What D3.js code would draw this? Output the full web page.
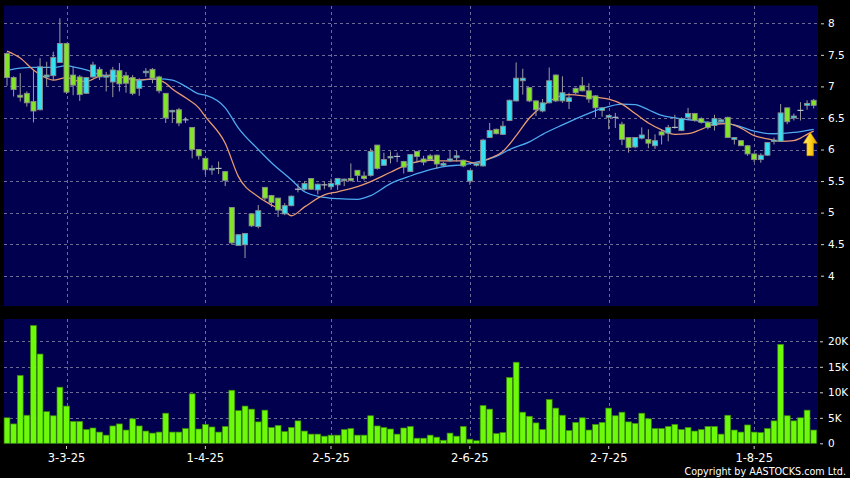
<!DOCTYPE html>
<html><head><meta charset="utf-8">
<script src="https://cdn.jsdelivr.net/npm/d3@7"></script>
<style>html,body{margin:0;padding:0;background:#000;}svg{display:block;}</style>
</head><body>
<svg id="chart" width="850" height="478"></svg>
<script>
// ---------- DATA ----------
const openP  = [7.52,7.14,6.86,6.89,6.76,6.63,7.15,7.17,7.38,7.68,7.18,7.15,6.89,7.15,7.27,7.15,7.07,7.25,7.17,7.14,6.97,7.22,7.27,7.15,6.89,6.60,6.63,6.47,6.35,6.00,5.86,5.68,5.70,5.65,5.08,4.48,4.49,4.98,4.78,5.40,5.27,5.23,4.98,5.11,5.37,5.37,5.54,5.36,5.44,5.41,5.44,5.51,5.54,5.67,5.58,5.59,6.07,5.75,5.87,5.89,5.81,5.65,5.97,5.85,5.90,5.91,5.75,5.82,5.87,5.83,5.50,5.75,5.74,6.19,6.32,6.24,6.46,6.77,7.09,6.98,6.77,6.61,6.74,7.18,6.77,6.76,6.97,7.01,6.93,6.85,6.62,6.51,6.51,6.40,6.19,6.04,6.18,6.16,6.06,6.28,6.26,6.35,6.30,6.51,6.57,6.49,6.43,6.38,6.44,6.51,6.16,6.14,6.06,5.93,5.84,5.91,6.13,6.13,6.66,6.50,6.62,6.70,6.78];
const highP  = [7.54,7.16,7.21,6.92,7.26,7.45,7.39,7.55,8.08,7.69,7.31,7.18,7.15,7.39,7.31,7.23,7.31,7.37,7.23,7.18,7.13,7.29,7.29,7.17,6.89,6.63,6.66,6.51,6.35,6.00,5.86,5.75,5.81,5.66,5.08,4.65,4.67,4.98,5.12,5.40,5.28,5.23,5.15,5.27,5.46,5.49,5.54,5.46,5.49,5.54,5.55,5.54,5.78,5.67,5.65,6.02,6.07,5.95,5.97,5.95,5.82,5.92,5.97,5.90,5.93,5.92,5.80,5.98,5.98,5.84,5.67,5.80,6.17,6.42,6.33,6.45,6.79,7.38,7.28,6.99,6.78,6.80,7.30,7.19,7.16,6.90,6.98,7.15,7.05,6.86,6.67,6.55,6.58,6.44,6.19,6.19,6.35,6.32,6.24,6.31,6.39,6.55,6.51,6.66,6.58,6.51,6.45,6.55,6.49,6.52,6.19,6.15,6.07,5.93,5.94,6.11,6.19,6.72,6.66,6.57,6.75,6.78,6.80];
const lowP   = [7.01,6.84,6.76,6.68,6.43,6.62,7.01,7.10,7.38,6.88,6.86,6.77,6.88,7.14,7.10,6.92,6.83,6.92,6.90,6.86,6.85,7.15,7.05,6.89,6.42,6.42,6.37,6.42,5.86,5.84,5.60,5.60,5.61,5.42,4.49,4.48,4.28,4.77,4.75,5.19,5.09,4.93,4.96,5.10,5.32,5.35,5.36,5.29,5.37,5.36,5.36,5.42,5.49,5.49,5.51,5.57,5.68,5.74,5.78,5.80,5.62,5.65,5.79,5.75,5.82,5.70,5.72,5.80,5.81,5.72,5.44,5.73,5.73,6.18,6.24,6.23,6.45,6.76,6.87,6.75,6.53,6.59,6.73,6.75,6.74,6.64,6.88,6.92,6.74,6.51,6.52,6.32,6.34,6.07,5.95,6.02,6.16,6.02,6.01,6.08,6.13,6.33,6.29,6.47,6.44,6.41,6.32,6.30,6.43,6.19,6.08,6.06,5.90,5.80,5.79,5.90,6.08,6.12,6.40,6.46,6.46,6.63,6.65];
const closeP = [7.14,6.95,6.83,6.74,6.61,7.31,7.18,7.46,7.68,6.91,7.02,6.87,7.14,7.34,7.15,7.17,7.26,7.04,7.05,6.89,7.10,7.24,7.13,6.93,6.50,6.62,6.42,6.47,6.00,5.90,5.68,5.70,5.70,5.51,4.52,4.65,4.67,4.79,5.03,5.23,5.16,5.04,5.11,5.26,5.37,5.46,5.37,5.45,5.44,5.46,5.54,5.53,5.51,5.59,5.54,5.97,5.70,5.84,5.89,5.89,5.72,5.92,5.89,5.80,5.84,5.77,5.78,5.85,5.90,5.74,5.67,5.78,6.15,6.30,6.25,6.37,6.78,7.13,7.13,6.77,6.63,6.74,7.09,6.77,6.90,6.82,6.90,6.93,6.80,6.66,6.66,6.54,6.51,6.16,6.03,6.19,6.23,6.10,6.14,6.23,6.35,6.35,6.49,6.57,6.46,6.43,6.35,6.49,6.47,6.19,6.19,6.06,5.93,5.84,5.91,6.11,6.15,6.58,6.44,6.53,6.62,6.73,6.70];
// volume in thousands of shares
const volumeK = [5.0,3.8,13.3,5.5,23.1,17.5,6.2,5.4,11.0,7.3,4.3,4.3,2.7,3.0,2.2,1.6,3.4,3.8,2.6,4.8,3.4,2.4,2.0,2.2,5.9,2.2,2.2,2.9,9.7,2.8,3.7,3.2,2.2,3.3,10.4,6.4,7.3,6.7,4.2,6.5,3.1,3.5,2.3,3.1,4.4,2.4,1.8,1.8,1.4,1.6,1.6,2.7,2.9,1.6,1.6,5.4,3.4,3.1,2.8,1.8,3.0,3.3,1.0,1.0,1.6,1.2,0.6,2.0,1.4,3.3,0.8,0.5,7.4,6.7,1.9,2.1,12.9,15.9,6.1,5.3,4.0,2.7,8.6,6.9,5.5,2.5,4.1,5.0,2.6,3.7,4.1,6.9,5.4,6.1,4.2,3.9,5.9,4.8,2.9,2.9,3.3,3.7,2.7,3.1,2.4,2.7,3.3,3.3,1.8,5.5,2.6,2.2,3.6,2.2,2.1,2.9,4.4,19.4,5.4,4.4,5.0,6.5,2.6];
// short moving average (orange) read at bar indices
const maShortIdx = [0,2,4,6,7,9,11,12,14,16,18,20,22,24,25,27,29,30,33,35,38,40,42,43,45,48,50,53,55,58,61,64,66,69,71,73,75,77,79,81,83,85,88,91,93,95,97,99,101,103,105,107,109,111,113,115,117,119,120,121,122];
const maShortVal = [7.56,7.45,7.26,7.13,7.10,7.14,7.08,7.08,7.16,7.18,7.13,7.10,7.12,7.05,6.96,6.82,6.66,6.52,6.10,5.57,5.25,5.12,5.02,4.95,5.09,5.28,5.33,5.41,5.49,5.64,5.78,5.83,5.82,5.82,5.78,5.86,5.97,6.22,6.50,6.69,6.82,6.87,6.84,6.80,6.72,6.57,6.42,6.31,6.24,6.25,6.32,6.40,6.41,6.34,6.22,6.17,6.13,6.14,6.18,6.24,6.29];
// long moving average (blue)
const maLongIdx = [0,2,4,7,9,10,12,14,17,20,23,25,27,29,30,33,35,38,40,43,45,48,50,53,55,58,61,64,66,69,71,74,76,79,81,84,87,90,93,95,97,99,101,104,106,109,111,113,116,119,122];
const maLongVal = [7.25,7.29,7.30,7.30,7.33,7.31,7.26,7.19,7.15,7.10,7.12,7.10,7.00,6.88,6.86,6.66,6.34,6.00,5.79,5.52,5.33,5.24,5.22,5.21,5.27,5.46,5.58,5.68,5.73,5.76,5.80,5.89,6.00,6.12,6.24,6.39,6.53,6.65,6.72,6.71,6.63,6.54,6.50,6.46,6.43,6.41,6.36,6.29,6.25,6.27,6.32];
const dateLabels = ["3-3-25","1-4-25","2-5-25","2-6-25","2-7-25","1-8-25"];
const dateIdx = [9,30,49,70,91,113];
const priceTicks = [4,4.5,5,5.5,6,6.5,7,7.5,8];
const volTicks = [0,5,10,15,20];
const volTickLabels = ["0","5K","10K","15K","20K"];

// ---------- CHART ----------
const N = openP.length;
const svg = d3.select("#chart");
const FONT = "'DejaVu Sans', Verdana, sans-serif";
const NAVY = "#00004f";
const GRID = "#6c6c94";

const x = d3.scaleBand().domain(d3.range(N)).range([3.7, 817]);
const cx = i => x(i) + x.bandwidth() / 2;
const y = d3.scaleLinear().domain([4, 8]).range([275.7, 23.3]);
const yv = d3.scaleLinear().domain([0, 20]).range([443.3, 341.3]);

svg.append("rect").attr("width", 850).attr("height", 478).attr("fill", "#000");
// panels
svg.append("rect").attr("x", 4).attr("y", 5.5).attr("width", 814).attr("height", 300.5).attr("fill", NAVY);
svg.append("rect").attr("x", 4).attr("y", 319).attr("width", 814).attr("height", 125).attr("fill", NAVY);

// horizontal grid
svg.append("g").selectAll("line").data(priceTicks).join("line")
  .attr("x1", 4).attr("x2", 818)
  .attr("y1", d => Math.round(y(d)) + 0.5).attr("y2", d => Math.round(y(d)) + 0.5)
  .attr("stroke", GRID).attr("stroke-dasharray", "3,3");
svg.append("g").selectAll("line").data(volTicks.slice(1)).join("line")
  .attr("x1", 4).attr("x2", 818)
  .attr("y1", d => Math.round(yv(d)) + 0.5).attr("y2", d => Math.round(yv(d)) + 0.5)
  .attr("stroke", GRID).attr("stroke-dasharray", "3,3");
// vertical grid
const vg = svg.append("g");
dateIdx.forEach(i => {
  const xx = Math.round(cx(i)) + 0.5;
  vg.append("line").attr("x1", xx).attr("x2", xx).attr("y1", 6).attr("y2", 306)
    .attr("stroke", GRID).attr("stroke-dasharray", "3,3");
  vg.append("line").attr("x1", xx).attr("x2", xx).attr("y1", 319).attr("y2", 444)
    .attr("stroke", GRID).attr("stroke-dasharray", "3,3");
});

// moving averages
const lineGen = d3.line().x(d => cx(d[0])).y(d => y(d[1])).curveMonotoneX;
svg.append("path").datum(maLongIdx.map((d, k) => [d, maLongVal[k]]))
  .attr("d", d3.line().x(d => cx(d[0])).y(d => y(d[1])).curve(d3.curveMonotoneX))
  .attr("fill", "none").attr("stroke", "#4eaaf0").attr("stroke-width", 1.3);
svg.append("path").datum(maShortIdx.map((d, k) => [d, maShortVal[k]]))
  .attr("d", d3.line().x(d => cx(d[0])).y(d => y(d[1])).curve(d3.curveMonotoneX))
  .attr("fill", "none").attr("stroke", "#e89a70").attr("stroke-width", 1.3);

// candles
const cg = svg.append("g");
const bw = 5;
d3.range(N).forEach(i => {
  const o = openP[i], c = closeP[i];
  const xc = cx(i);
  cg.append("line").attr("x1", xc).attr("x2", xc)
    .attr("y1", y(highP[i])).attr("y2", y(lowP[i]))
    .attr("stroke", "#9c9c9c").attr("stroke-width", 1);
  if (o === c) {
    cg.append("line").attr("x1", xc - 3).attr("x2", xc + 3)
      .attr("y1", y(o)).attr("y2", y(o))
      .attr("stroke", "#b4bcc8").attr("stroke-width", 1.2);
  } else {
    const top = y(Math.max(o, c)), bot = y(Math.min(o, c));
    cg.append("rect").attr("x", xc - bw / 2).attr("y", top)
      .attr("width", bw).attr("height", Math.max(1.5, bot - top))
      .attr("fill", c > o ? "#35e0f0" : "#84e42a")
      .attr("stroke", "#8c8c8c").attr("stroke-width", 0.9);
  }
});

// volume bars
svg.append("g").selectAll("rect").data(d3.range(N)).join("rect")
  .attr("x", i => x(i) + 0.4).attr("width", x.bandwidth() - 0.8)
  .attr("y", i => yv(volumeK[i])).attr("height", i => yv(0) - yv(volumeK[i]))
  .attr("fill", "#6cfa0a").attr("stroke", "#3c8a08").attr("stroke-width", 0.7);

// arrow at last bar, tip on the short MA
const ax = cx(N - 1) - 3.5, ay = y(maShortVal[maShortVal.length - 1]) + 1;
const defs = svg.append("defs");
const grad = defs.append("linearGradient").attr("id", "ag").attr("x1", "0").attr("x2", "1").attr("y1", "0").attr("y2", "0");
grad.append("stop").attr("offset", "0").attr("stop-color", "#fff07a");
grad.append("stop").attr("offset", "0.5").attr("stop-color", "#ffd21a");
grad.append("stop").attr("offset", "1").attr("stop-color", "#e0a000");
svg.append("path")
  .attr("d", `M${ax},${ay} L${ax + 7},${ay + 11} L${ax + 3.3},${ay + 11} L${ax + 3.3},${ay + 23.5} L${ax - 3.3},${ay + 23.5} L${ax - 3.3},${ay + 11} L${ax - 7},${ay + 11} Z`)
  .attr("fill", "url(#ag)").attr("stroke", "#c88a00").attr("stroke-width", 0.6);

// axes
const axP = svg.append("g").attr("transform", "translate(821,0)")
  .call(d3.axisRight(y).tickValues(priceTicks).tickSize(3).tickPadding(4).tickFormat(d => d3.format("")(d)));
const axV = svg.append("g").attr("transform", "translate(820,0)")
  .call(d3.axisRight(yv).tickValues(volTicks).tickSize(3).tickPadding(5).tickFormat((d, k) => volTickLabels[k]));
const axX = svg.append("g").attr("transform", "translate(0,446)")
  .call(d3.axisBottom(x).tickValues(dateIdx).tickSize(3).tickPadding(4.5).tickFormat((d, k) => dateLabels[k]));
[axP, axV, axX].forEach(a => {
  a.select(".domain").remove();
  a.selectAll(".tick line").attr("stroke", "#d0d0d0");
  a.selectAll("text").attr("fill", "#fff").attr("font-family", FONT);
});
axP.selectAll("text").attr("font-size", "10.5px");
axV.selectAll("text").attr("font-size", "10.5px");
axX.selectAll("text").attr("font-size", "11.5px");

svg.append("text").attr("x", 846).attr("y", 475).attr("text-anchor", "end")
  .attr("fill", "#fff").attr("font-family", FONT).attr("font-size", "9.6px")
  .text("Copyright by AASTOCKS.com Ltd.");
</script>
</body></html>
